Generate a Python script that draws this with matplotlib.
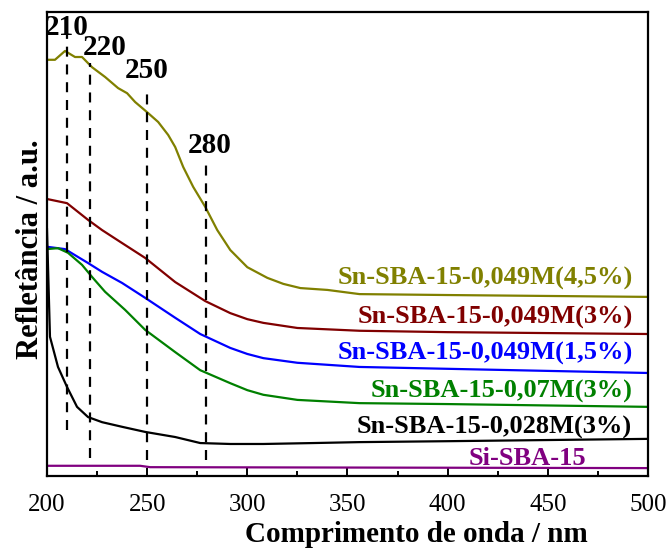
import matplotlib as mpl
import matplotlib.pyplot as plt
from matplotlib.ticker import MultipleLocator

mpl.rcParams["font.family"] = "Liberation Serif"
mpl.rcParams["font.size"] = 18

# DRS spectra, reflectance in arbitrary units
x_45 = [200, 204, 209, 214, 217.5, 222.5, 229, 235.5, 240, 244, 250, 255.5, 260.5, 264, 268, 273,
        279, 285, 291.5, 300, 310, 318, 326.5, 340, 356, 400, 450, 500]
r_45 = [89.7, 89.7, 91.6, 90.3, 90.3, 88.1, 86.0, 83.6, 82.5, 80.6, 78.4, 76.3, 73.5, 70.9, 66.6, 62.3,
        58.0, 53.0, 48.7, 45.0, 42.7, 41.4, 40.5, 40.1, 39.2, 39.0, 38.8, 38.6]

x_3 = [200, 210, 220.5, 227.5, 237.5, 249, 264, 279, 291.5, 300, 308, 325, 356, 400, 500]
r_3 = [59.7, 58.8, 55.2, 53.0, 50.2, 47.0, 41.8, 37.7, 35.1, 33.8, 33.0, 31.9, 31.3, 31.0, 30.6]

x_15 = [200, 209, 215.5, 220.5, 227.5, 237.5, 249, 264, 276.5, 291.5, 300, 308, 325, 356, 400, 500]
r_15 = [49.4, 48.9, 47.2, 45.9, 44.0, 41.6, 38.4, 34.1, 30.6, 27.6, 26.3, 25.4, 24.4, 23.5, 23.1, 22.2]

x_07 = [200, 205.5, 210.5, 217.5, 222.5, 229, 239, 249, 264, 276.5, 291.5, 300, 308, 325, 356, 400, 500]
r_07 = [48.9, 49.1, 48.1, 45.5, 42.9, 39.7, 35.8, 31.5, 26.7, 22.8, 20.0, 18.5, 17.5, 16.4, 15.7, 15.5, 14.9]

x_028 = [200, 201.5, 205.5, 210, 215, 220.5, 227.5, 237.5, 249, 264, 276.5, 291.5, 308, 333, 356, 400, 500]
r_028 = [53.2, 30.0, 23.5, 19.2, 14.9, 12.7, 11.6, 10.6, 9.5, 8.4, 7.1, 6.9, 6.9, 7.1, 7.3, 7.5, 8.0]

x_si = [200, 246.5, 251.5, 500]
r_si = [2.2, 2.2, 1.9, 1.7]

# band positions (nm) and the extent of each marker line
bands = [210, 221.5, 250, 279.5]
band_top = [95.5, 89.0, 83.6, 67.5]
band_bottom = [9.9, 3.9, 3.4, 3.4]
band_text = ["210", "220", "250", "280"]
band_text_x = [210, 229, 250, 281]
band_text_y = [95.0, 90.7, 85.8, 69.6]

series = [
    (x_45, r_45, "#808000", "Sn-SBA-15-0,049M(4,5%)", 492.5, 41.2),
    (x_3, r_3, "#800000", "Sn-SBA-15-0,049M(3%)", 492.5, 32.8),
    (x_15, r_15, "#0000ff", "Sn-SBA-15-0,049M(1,5%)", 492.5, 25.0),
    (x_07, r_07, "#008000", "Sn-SBA-15-0,07M(3%)", 492.5, 16.8),
    (x_028, r_028, "black", "Sn-SBA-15-0,028M(3%)", 492.0, 9.1),
    (x_si, r_si, "#800080", "Si-SBA-15", 469.0, 2.4),
]

fig = plt.figure(figsize=(6.71, 5.48), dpi=100)
ax = fig.add_axes([0.070, 0.1314, 0.8957, 0.8467])

for xs, ys, c, name, tx, ty in series:
    ax.plot(xs, ys, color=c, lw=1.6)
    ax.text(tx, ty, name, color=c, fontsize=19, fontweight="bold", ha="right", va="baseline")

for b, t, bt in zip(bands, band_top, band_bottom):
    ax.plot([b, b], [bt, t], color="black", lw=1.6, ls=(0, (4.5, 3.5)))

for s, tx, ty in zip(band_text, band_text_x, band_text_y):
    ax.text(tx, ty, s, fontsize=21, fontweight="bold", ha="center", va="baseline")

ax.set_xlim(200, 500)
ax.set_ylim(0, 100)
ax.xaxis.set_major_locator(MultipleLocator(50))
ax.xaxis.set_minor_locator(MultipleLocator(25))
ax.tick_params(axis="x", which="both", direction="in", width=1.4, top=False)
ax.tick_params(axis="x", which="major", length=6, pad=13)
ax.tick_params(axis="x", which="minor", length=3.5)
ax.set_yticks([])
for sp in ax.spines.values():
    sp.set_linewidth(1.6)

ax.set_xlabel("Comprimento de onda / nm", fontsize=21, fontweight="bold")
ax.xaxis.set_label_coords(0.614, -0.0975)
ax.set_ylabel("Refletância / a.u.", fontsize=22, fontweight="bold")
ax.yaxis.set_label_coords(-0.003, 0.489)

plt.savefig("out.png", dpi=100)
